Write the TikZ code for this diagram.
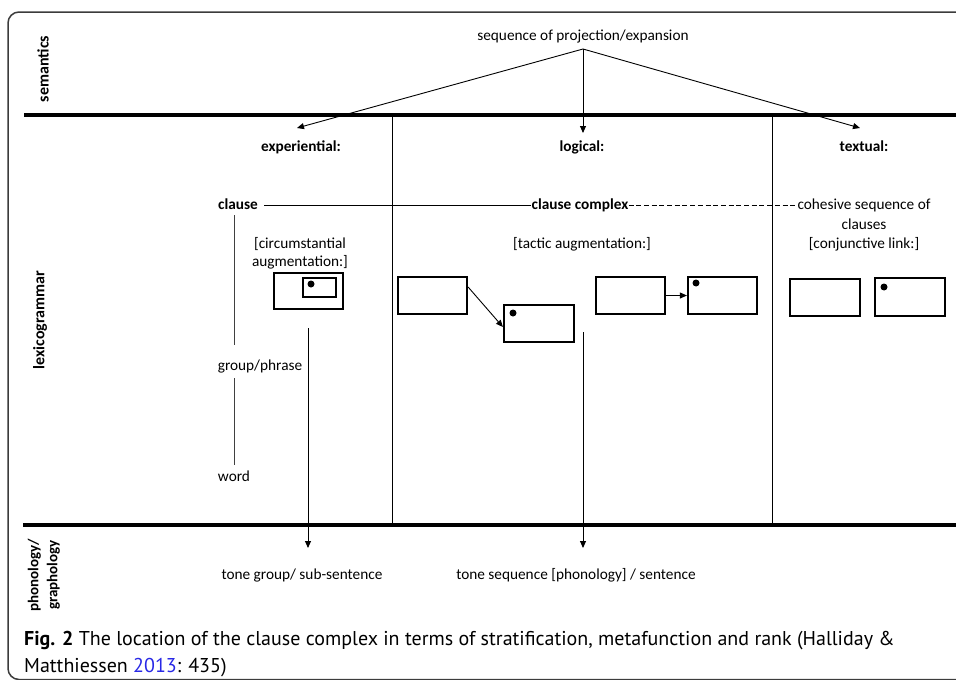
\documentclass[tikz,border=0pt]{standalone}
\usepackage{fontspec}
\setmainfont{Carlito}
\newfontfamily\capfont{PT Sans}
\usetikzlibrary{arrows.meta,calc}
\definecolor{linkblue}{RGB}{40,40,230}
\definecolor{framegray}{RGB}{60,60,60}
\begin{document}
\begin{tikzpicture}[x=1pt,y=-1pt,
  txt/.style={font=\fontsize{15.3}{18}\selectfont, inner sep=0pt, anchor=base},
  bld/.style={font=\fontsize{15.3}{18}\selectfont\bfseries, inner sep=0pt, anchor=base},
  vlab/.style={font=\fontsize{16}{19}\selectfont\bfseries, rotate=90, inner sep=0pt, align=center},
  capt/.style={font=\fontsize{20}{24}\selectfont\capfont, inner sep=0pt, anchor=base west},
  box/.style={draw, line width=2.2pt, inner sep=0pt},
  blob/.style={fill, circle, inner sep=0pt, minimum size=7pt},
  rule/.style={line width=4.5pt},
  thin/.style={line width=0.9pt},
  arr/.style={line width=0.9pt, -{Triangle[length=7pt,width=6pt]}}
]
\useasboundingbox (0,0) rectangle (956,680);
\clip (0,0) rectangle (956,680);
% frame
\draw[framegray, line width=1.5pt, rounded corners=11pt] (8,12) rectangle (985,679.5);
% strata rules
\coordinate (t1) at (24,115); \coordinate (t2) at (960,115);
\coordinate (b1) at (23,525); \coordinate (b2) at (960,525);
\draw[rule] (t1) -- (t2);
\draw[rule] (b1) -- (b2);
% column separators
\coordinate (v1t) at (392,117); \coordinate (v1b) at (392,523);
\coordinate (v2t) at (772,117); \coordinate (v2b) at (772,523);
\draw[thin] (v1t) -- (v1b);
\draw[thin] (v2t) -- (v2b);
% stratum labels
\node[vlab] (sem) at (43,69) {semantics};
\node[vlab] (lex) at (40,320) {lexicogrammar};
\node[vlab, font=\fontsize{15}{19}\selectfont\bfseries] (phon) at (44,575) {phonology/\\graphology};
% semantics
\node[txt] (seq) at (583,40) {sequence of projection/expansion};
\coordinate (apex) at (583,49);
\node[bld] (exp) at (301,151) {experiential:};
\node[bld] (log) at (582,151) {logical:};
\node[bld] (tex) at (864,151) {textual:};
\coordinate (expt) at (297,128);
\coordinate (logt) at (583,133);
\coordinate (text) at (860,128);
\draw[arr] (apex) -- (expt);
\draw[arr] (apex) -- (logt);
\draw[arr] (apex) -- (text);
% rank labels
\node[bld] (cl) at (238,209) {clause};
\node[bld] (cc) at (580,209) {clause complex};
\node[txt] (coh1) at (864,209) {cohesive sequence of};
\node[txt] (coh2) at (864,229) {clauses};
\node[txt] (coh3) at (864,248) {[conjunctive link:]};
\coordinate (rk) at (0,205);
\draw[thin, shorten <=6pt] (cl.east |- rk) -- (cc.west |- rk);
\draw[thin, dash pattern=on 5pt off 2.7pt] (cc.east |- rk) -- ([xshift=-2pt]coh1.west |- rk);
\node[txt] (gp) at (260,370) {group/phrase};
\node[txt] (wd) at (234,481) {word};
\draw[thin, color=black!75] (wd.north |- 0,215) -- (wd.north |- 0,345);
\draw[thin, color=black!75] (wd.north |- 0,378) -- (wd.north |- 0,465);
% experiential
\node[txt] (ca1) at (300,248) {[circumstantial};
\node[txt] (ca2) at (300,266) {augmentation:]};
\node[box, minimum width=69pt, minimum height=36pt] (outer) at (308.5,291) {};
\node[box, minimum width=33pt, minimum height=19pt] (inner) at (319.5,287.5) {};
\node[blob] (d0) at (311,284) {};
% logical
\node[txt] (ta) at (582,248) {[tactic augmentation:]};
\node[box, minimum width=69pt, minimum height=37pt] (bA) at (432.5,295.5) {};
\node[box, minimum width=70pt, minimum height=37pt] (bB) at (539,323.5) {};
\node[blob] (d1) at (513,313) {};
\draw[arr] ([yshift=8.5pt]bA.east) -- ([yshift=-3.5pt]bB.west);
\node[box, minimum width=69pt, minimum height=37pt] (bC) at (630.5,295.5) {};
\node[box, minimum width=69pt, minimum height=37pt] (bD) at (722.5,295.5) {};
\node[blob] (d2) at (696,283) {};
\draw[arr] (bC.east) -- (bD.west);
% textual
\node[box, minimum width=70pt, minimum height=37pt] (bE) at (825,297.5) {};
\node[box, minimum width=70pt, minimum height=38pt] (bF) at (910,297) {};
\node[blob] (d3) at (884,287) {};
% phonology
\node[txt] (tg) at (302,579) {tone group/ sub-sentence};
\node[txt] (ts) at (576,579) {tone sequence [phonology] / sentence};
\coordinate (a1s) at (308,328);
\coordinate (a1e) at (308,548);
\coordinate (a2s) at (583,332);
\coordinate (a2e) at (583,548);
\draw[arr] (a1s) -- (a1e);
\draw[arr] (a2s) -- (a2e);
% caption
\node[capt] (cap1) at (24,645) {\textbf{Fig. 2} The location of the clause complex in terms of stratification, metafunction and rank (Halliday \&};
\node[capt] (cap2) at (24,672) {Matthiessen \textcolor{linkblue}{2013}: 435)};
\end{tikzpicture}
\end{document}
